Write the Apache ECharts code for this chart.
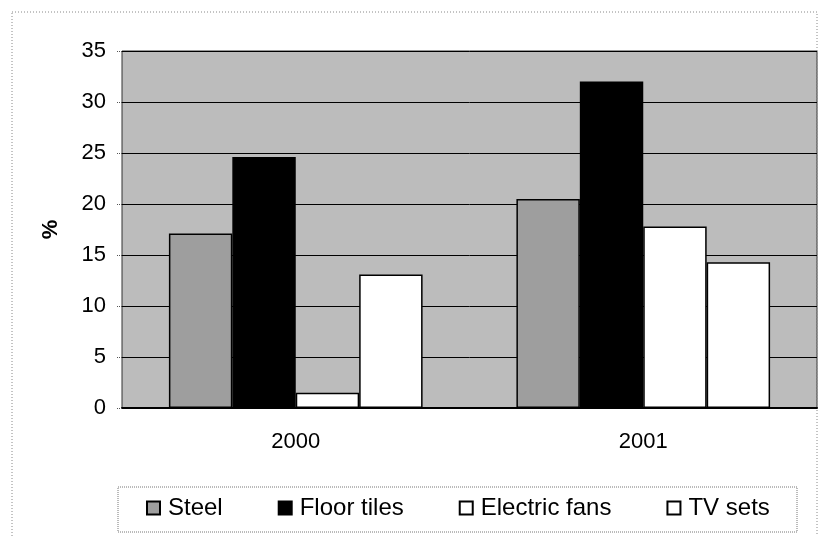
<!DOCTYPE html>
<html>
<head>
<meta charset="utf-8">
<title>Steel, floor tiles, electric fans, TV sets</title>
<script src="https://cdn.jsdelivr.net/npm/echarts@6/dist/echarts.min.js"></script>
<style>
  html, body { margin: 0; padding: 0; background: #fff; }
  #chart { width: 820px; height: 536px; }
</style>
</head>
<body>
<div id="chart"></div>
<script>
  // data
  const years = ['2000', '2001'];
  const seriesNames = ['Steel', 'Floor tiles', 'Electric fans', 'TV sets'];
  const steel = [17.1, 20.5];
  const floorTiles = [24.6, 32.0];
  const electricFans = [1.5, 17.8];
  const tvSets = [13.1, 14.3];
  const yTicks = [0, 5, 10, 15, 20, 25, 30, 35];

  const fontFamily = '"Liberation Sans", Arial, sans-serif';
  const fills = ['#9e9e9e', '#000000', '#ffffff', '#ffffff'];
  const values = [steel, floorTiles, electricFans, tvSets];

  const chart = echarts.init(document.getElementById('chart'));

  chart.setOption({
    animation: false,
    backgroundColor: '#fff',
    textStyle: { fontFamily: fontFamily },
    grid: {
      left: 122,
      right: 3,
      top: 51,
      bottom: 128,
      show: true,
      backgroundColor: '#bcbcbc',
      borderColor: '#333',
      borderWidth: 1
    },
    legend: {
      data: seriesNames,
      left: 146,
      top: 496,
      padding: 0,
      itemGap: 55,
      itemWidth: 13,
      itemHeight: 13,
      icon: 'rect',
      textStyle: {
        fontSize: 24,
        color: '#000',
        fontFamily: fontFamily,
        padding: [0, 0, 0, 3]
      }
    },
    xAxis: {
      type: 'category',
      data: years,
      axisLine: { lineStyle: { color: '#000', width: 2 } },
      axisTick: { length: 6, lineStyle: { color: '#777', type: 'dotted' } },
      axisLabel: { fontSize: 22, color: '#000', margin: 23, fontFamily: fontFamily }
    },
    yAxis: {
      type: 'value',
      min: yTicks[0],
      max: yTicks[yTicks.length - 1],
      interval: 5,
      name: '%',
      nameLocation: 'middle',
      nameGap: 60,
      nameRotate: 90,
      nameTextStyle: { fontSize: 22, fontWeight: 'bold', color: '#000', fontFamily: fontFamily },
      axisLine: { show: false },
      axisTick: { show: true, length: 6, lineStyle: { color: '#555', type: 'dotted' } },
      axisLabel: { fontSize: 22, color: '#000', margin: 16, fontFamily: fontFamily },
      splitLine: { lineStyle: { color: '#000', width: 1 } }
    },
    series: seriesNames.map(function (name, i) {
      return {
        name: name,
        type: 'bar',
        data: values[i],
        barGap: '0%',
        barCategoryGap: '27%',
        itemStyle: {
          color: fills[i],
          borderColor: '#000',
          borderWidth: 1.5
        }
      };
    }),
    graphic: [
      {
        // dotted frame round the chart
        type: 'rect',
        shape: { x: 12, y: 12, width: 805, height: 540 },
        style: { fill: 'none', stroke: '#888', lineWidth: 1, lineDash: [1, 2] },
        silent: true
      },
      {
        // legend box
        type: 'rect',
        shape: { x: 118, y: 487, width: 679, height: 45 },
        style: { fill: 'none', stroke: '#777', lineWidth: 1, lineDash: [1, 1] },
        silent: true
      }
    ]
  });
</script>
</body>
</html>
